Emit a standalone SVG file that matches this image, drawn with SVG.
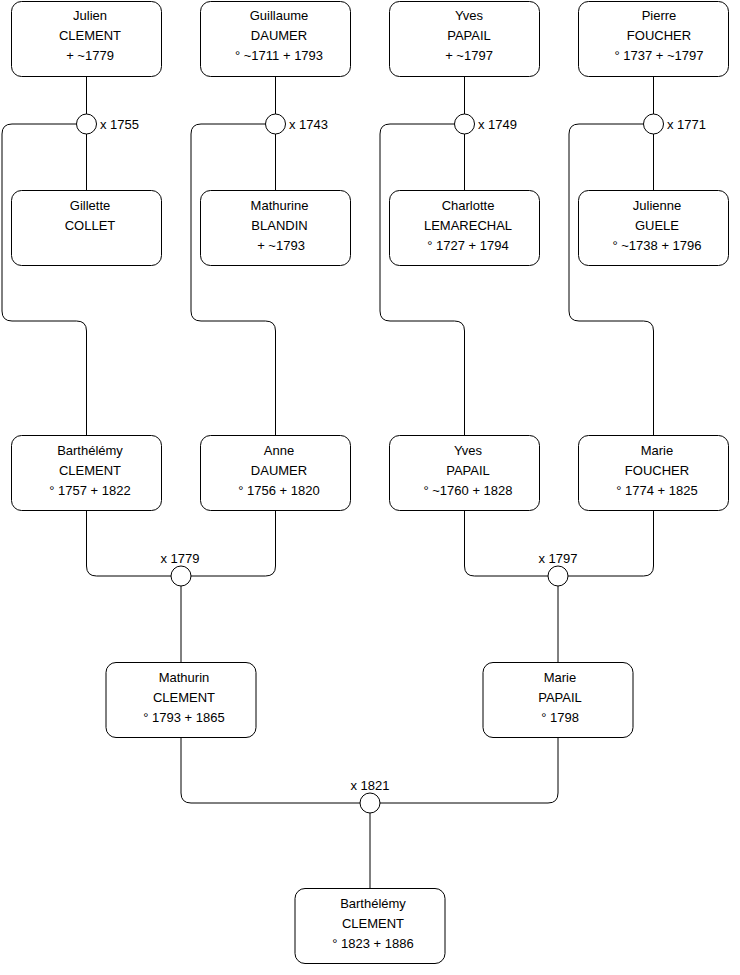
<svg xmlns="http://www.w3.org/2000/svg" width="740" height="975" viewBox="0 0 740 975">
<style>
.box{fill:#fff;stroke:#000;stroke-width:1}
.t{font-family:"Liberation Sans",Arial,sans-serif;font-size:13px;fill:#000;text-anchor:middle}
.l{font-family:"Liberation Sans",Arial,sans-serif;font-size:13px;fill:#000}
.c{fill:none;stroke:#000;stroke-width:1}
.u{fill:#fff;stroke:#000;stroke-width:1}
</style>
<rect width="740" height="975" fill="#fff"/>
<g id="connectors">
<path class="c" d="M86.5,76V114M86.5,134V190"/>
<path class="c" d="M76.5,124H12Q2,124 2,134V311Q2,321 12,321H76.5Q86.5,321 86.5,331V435"/>
<path class="c" d="M275.5,76V114M275.5,134V190"/>
<path class="c" d="M265.5,124H201Q191,124 191,134V311Q191,321 201,321H265.5Q275.5,321 275.5,331V435"/>
<path class="c" d="M464.5,76V114M464.5,134V190"/>
<path class="c" d="M454.5,124H390Q380,124 380,134V311Q380,321 390,321H454.5Q464.5,321 464.5,331V435"/>
<path class="c" d="M653.5,76V114M653.5,134V190"/>
<path class="c" d="M643.5,124H579Q569,124 569,134V311Q569,321 579,321H643.5Q653.5,321 653.5,331V435"/>
<path class="c" d="M86.5,510V566Q86.5,576 96.5,576H171.5M190.5,576H265.5Q275.5,576 275.5,566V510M181,586V662"/>
<path class="c" d="M464.5,510V566Q464.5,576 474.5,576H548.5M567.5,576H643.5Q653.5,576 653.5,566V510M558,586V662"/>
<path class="c" d="M181,737V793Q181,803 191,803H360.5M379.5,803H548Q558,803 558,793V737M370,813V888"/>
</g>
<g id="union1755"><circle class="u" cx="86.5" cy="124" r="10"/><text class="l" x="100" y="129">x 1755</text></g>
<g id="union1743"><circle class="u" cx="275.5" cy="124" r="10"/><text class="l" x="289" y="129">x 1743</text></g>
<g id="union1749"><circle class="u" cx="464.5" cy="124" r="10"/><text class="l" x="478" y="129">x 1749</text></g>
<g id="union1771"><circle class="u" cx="653.5" cy="124" r="10"/><text class="l" x="667" y="129">x 1771</text></g>
<g id="union1779"><circle class="u" cx="181" cy="576" r="10"/><text class="t" x="180" y="563">x 1779</text></g>
<g id="union1797"><circle class="u" cx="558" cy="576" r="10"/><text class="t" x="558" y="563">x 1797</text></g>
<g id="union1821"><circle class="u" cx="370" cy="803" r="10"/><text class="t" x="370" y="790">x 1821</text></g>

<g id="julien"><rect class="box" x="11.5" y="1.5" width="150" height="75" rx="10"/><text class="t" x="90" y="20">Julien</text><text class="t" x="90" y="40">CLEMENT</text><text class="t" x="90" y="60">+ ~1779</text></g>
<g id="guillaume"><rect class="box" x="200.5" y="1.5" width="150" height="75" rx="10"/><text class="t" x="279" y="20">Guillaume</text><text class="t" x="279" y="40">DAUMER</text><text class="t" x="279" y="60">° ~1711 + 1793</text></g>
<g id="yves1"><rect class="box" x="389.5" y="1.5" width="150" height="75" rx="10"/><text class="t" x="469" y="20">Yves</text><text class="t" x="469" y="40">PAPAIL</text><text class="t" x="469" y="60">+ ~1797</text></g>
<g id="pierre"><rect class="box" x="578.5" y="1.5" width="150" height="75" rx="10"/><text class="t" x="659" y="20">Pierre</text><text class="t" x="659" y="40">FOUCHER</text><text class="t" x="659" y="60">° 1737 + ~1797</text></g>

<g id="gillette"><rect class="box" x="11.5" y="190.5" width="150" height="75" rx="10"/><text class="t" x="90" y="210">Gillette</text><text class="t" x="90" y="230">COLLET</text></g>
<g id="mathurine"><rect class="box" x="200.5" y="190.5" width="150" height="75" rx="10"/><text class="t" x="279.5" y="210">Mathurine</text><text class="t" x="279.5" y="230">BLANDIN</text><text class="t" x="281" y="250">+ ~1793</text></g>
<g id="charlotte"><rect class="box" x="389.5" y="190.5" width="150" height="75" rx="10"/><text class="t" x="468" y="210">Charlotte</text><text class="t" x="468" y="230">LEMARECHAL</text><text class="t" x="468" y="250">° 1727 + 1794</text></g>
<g id="julienne"><rect class="box" x="578.5" y="190.5" width="150" height="75" rx="10"/><text class="t" x="657" y="210">Julienne</text><text class="t" x="657" y="230">GUELE</text><text class="t" x="657" y="250">° ~1738 + 1796</text></g>

<g id="barthelemy1"><rect class="box" x="11.5" y="435.5" width="150" height="75" rx="10"/><text class="t" x="90" y="455">Barthélémy</text><text class="t" x="90" y="475">CLEMENT</text><text class="t" x="90" y="495">° 1757 + 1822</text></g>
<g id="anne"><rect class="box" x="200.5" y="435.5" width="150" height="75" rx="10"/><text class="t" x="279" y="455">Anne</text><text class="t" x="279" y="475">DAUMER</text><text class="t" x="279" y="495">° 1756 + 1820</text></g>
<g id="yves2"><rect class="box" x="389.5" y="435.5" width="150" height="75" rx="10"/><text class="t" x="468" y="455">Yves</text><text class="t" x="468" y="475">PAPAIL</text><text class="t" x="468" y="495">° ~1760 + 1828</text></g>
<g id="marie1"><rect class="box" x="578.5" y="435.5" width="150" height="75" rx="10"/><text class="t" x="657" y="455">Marie</text><text class="t" x="657" y="475">FOUCHER</text><text class="t" x="657" y="495">° 1774 + 1825</text></g>

<g id="mathurin"><rect class="box" x="106" y="662.5" width="150" height="75" rx="10"/><text class="t" x="184" y="682">Mathurin</text><text class="t" x="184" y="702">CLEMENT</text><text class="t" x="184" y="722">° 1793 + 1865</text></g>
<g id="marie2"><rect class="box" x="483" y="662.5" width="150" height="75" rx="10"/><text class="t" x="560" y="682">Marie</text><text class="t" x="560" y="702">PAPAIL</text><text class="t" x="560" y="722">° 1798</text></g>

<g id="barthelemy2"><rect class="box" x="295" y="888.5" width="150" height="75" rx="10"/><text class="t" x="373" y="908">Barthélémy</text><text class="t" x="373" y="928">CLEMENT</text><text class="t" x="373" y="948">° 1823 + 1886</text></g>
</svg>
